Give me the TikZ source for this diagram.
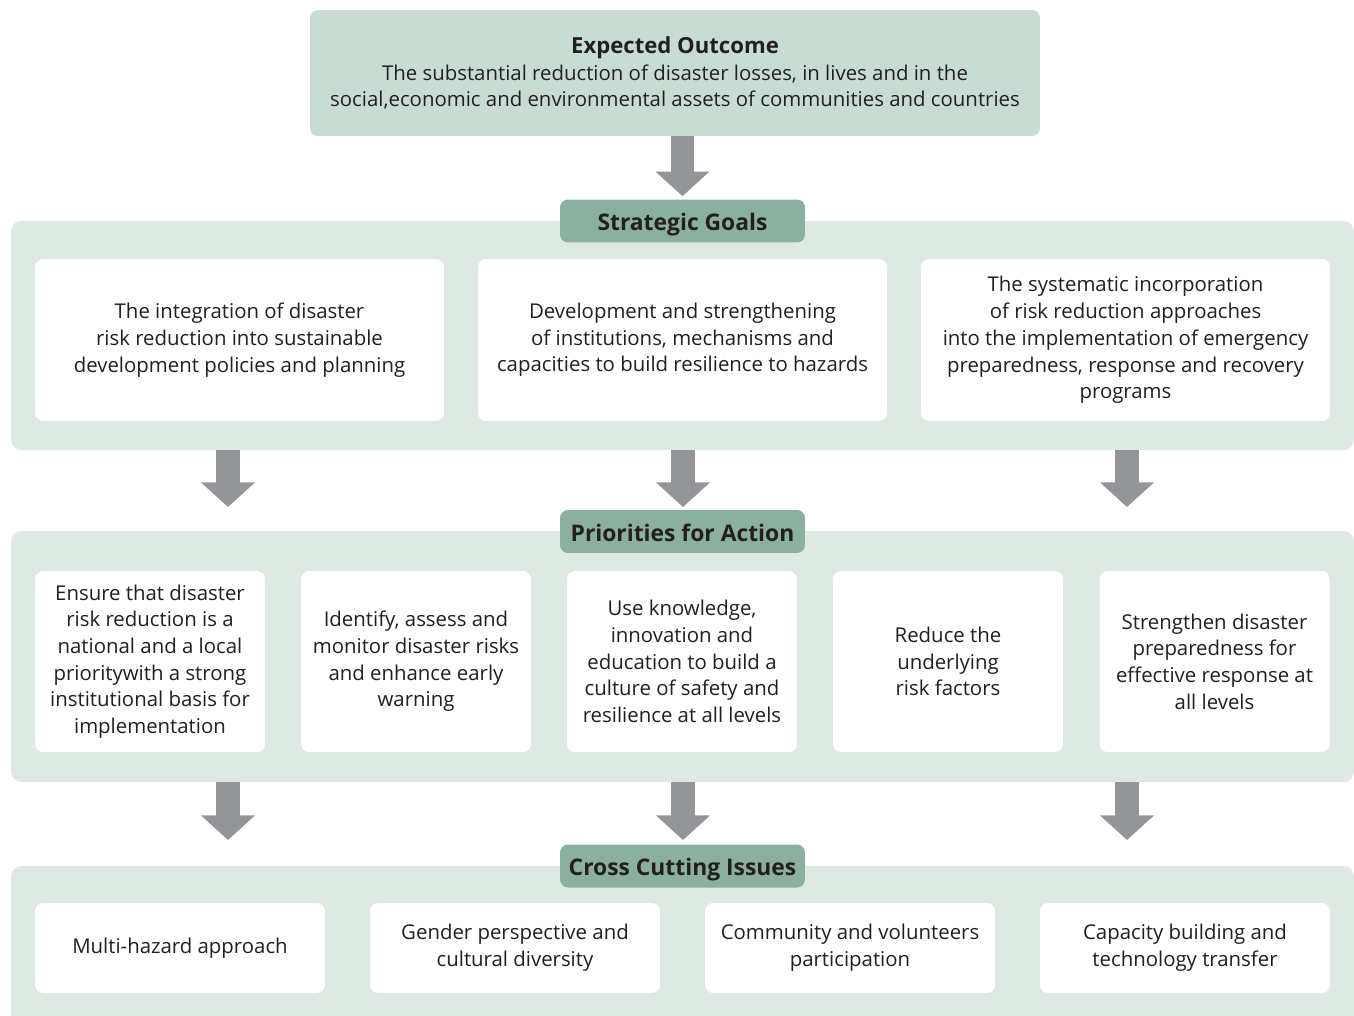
\documentclass[tikz,border=0pt]{standalone}
\usepackage{fontspec}
\setmainfont{Open Sans}
\usetikzlibrary{arrows.meta}

\definecolor{outfill}{HTML}{C9DCD3}
\definecolor{labfill}{HTML}{8CB09F}
\definecolor{panfill}{HTML}{DFE9E4}
\definecolor{arrgray}{HTML}{939598}
\definecolor{ink}{HTML}{231F20}

\tikzset{
  panel/.style={fill=panfill, rounded corners=0.2cm, minimum width=26.86cm},
  heading/.style={fill=labfill, rounded corners=0.16cm, minimum width=4.9cm, minimum height=0.86cm, text height=11pt, text depth=0pt, text=ink, font=\fontsize{13}{15}\selectfont\bfseries},
  card/.style={fill=white, rounded corners=0.16cm, align=center, text=ink, font=\fontsize{11.6}{15.2}\selectfont},
  blockarrow/.style={draw=arrgray, line width=13.6pt, -{Triangle[width=30pt,length=14pt]}},
}

\begin{document}
\begin{tikzpicture}[x=0.02cm, y=-0.02cm]
    \useasboundingbox (0,0) rectangle (1354,1016);
    % Expected outcome
    \node[card, fill=outfill, minimum width=14.6cm, minimum height=2.52cm] (outcome) at (675,73)
      {{\fontsize{12.6}{15.2}\selectfont\bfseries Expected Outcome}\\The substantial reduction of disaster losses, in lives and in the\\social,economic and environmental assets of communities and countries};

    % Panels
    \node[panel, minimum height=4.58cm] (goalspanel) at (682.5,335.5) {};
    \node[panel, minimum height=5.02cm] (prispanel) at (682.5,656.5) {};
    \begin{scope}
      \clip (0,0) rectangle (1354,1016);
      \node[panel, minimum height=3.6cm] (crosspanel) at (682.5,956) {};
    \end{scope}

    % Headings
    \node[heading] (goalshead) at (682.5,221) {Strategic Goals};
    \node[heading] (prishead) at (682.5,531.5) {Priorities for Action};
    \node[heading] (crosshead) at (682.5,866) {Cross Cutting Issues};

    % Strategic goals
    \tikzset{goal/.style={card, minimum width=8.18cm, minimum height=3.24cm}}
    \node[goal] (goal1) at (239.5,340) {The integration of disaster\\risk reduction into sustainable\\development policies and planning};
    \node[goal] (goal2) at (682.5,340) {Development and strengthening\\of institutions, mechanisms and\\capacities to build resilience to hazards};
    \node[goal] (goal3) at (1125.5,340) {The systematic incorporation\\of risk reduction approaches\\into the implementation of emergency\\preparedness, response and recovery\\programs};

    % Priorities for action
    \tikzset{prio/.style={card, minimum width=4.6cm, minimum height=3.62cm}}
    \node[prio] (prio1) at (150,661.5) {Ensure that disaster\\risk reduction is a\\national and a local\\prioritywith a strong\\institutional basis for\\implementation};
    \node[prio] (prio2) at (416,661.5) {Identify, assess and\\monitor disaster risks\\and enhance early\\warning};
    \node[prio] (prio3) at (682,661.5) {Use knowledge,\\innovation and\\education to build a\\culture of safety and\\resilience at all levels};
    \node[prio] (prio4) at (948,661.5) {Reduce the\\underlying\\risk factors};
    \node[prio] (prio5) at (1214.5,661.5) {Strengthen disaster\\preparedness for\\effective response at\\all levels};

    % Cross cutting issues
    \tikzset{issue/.style={card, minimum width=5.8cm, minimum height=1.8cm}}
    \node[issue] (issue1) at (180,948) {Multi-hazard approach};
    \node[issue] (issue2) at (515,948) {Gender perspective and\\cultural diversity};
    \node[issue] (issue3) at (850,948) {Community and volunteers\\participation};
    \node[issue] (issue4) at (1185,948) {Capacity building and\\technology transfer};

    % Arrows
    \draw[blockarrow] (goalshead.north |- outcome.south) -- ([yshift=0.06cm]goalshead.north);
    \foreach \ax [count=\i] in {228,683,1127} {
      \coordinate (gtip\i) at (\ax,507);
      \coordinate (ptip\i) at (\ax,840);
      \draw[blockarrow] (gtip\i |- goalspanel.south) -- (gtip\i);
      \draw[blockarrow] (ptip\i |- prispanel.south) -- (ptip\i);
    }
\end{tikzpicture}
\end{document}
